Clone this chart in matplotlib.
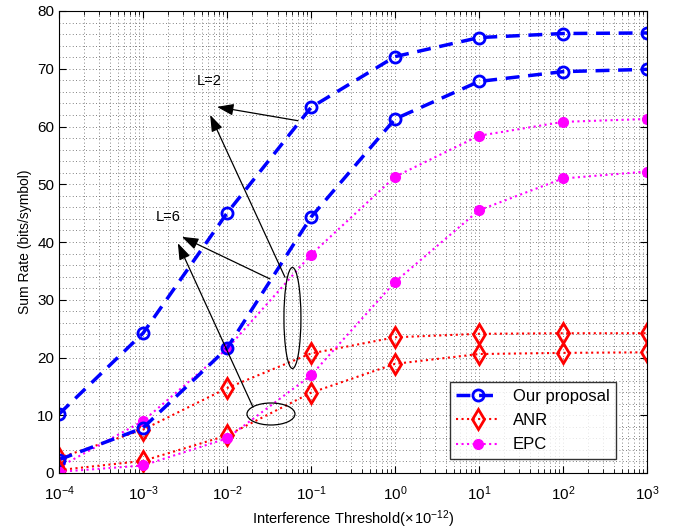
import numpy as np
import matplotlib
matplotlib.use("Agg")
import matplotlib.pyplot as plt
from matplotlib.patches import Ellipse
from matplotlib.ticker import NullFormatter, LogLocator

plt.rcParams['font.family'] = ['Liberation Sans', 'DejaVu Sans']
plt.rcParams['mathtext.fontset'] = 'custom'
plt.rcParams['mathtext.rm'] = 'Liberation Sans'
plt.rcParams['mathtext.it'] = 'Liberation Sans:italic'

# interference threshold (x 1e-12)
thr = [1e-4, 1e-3, 1e-2, 1e-1, 1e0, 1e1, 1e2, 1e3]
xtick_labels = [r'$10^{-4}$', r'$10^{-3}$', r'$10^{-2}$', r'$10^{-1}$',
                r'$10^{0}$', r'$10^{1}$', r'$10^{2}$', r'$10^{3}$']

# Our proposal
prop_L2 = [10.2, 24.2, 45.0, 63.3, 72.1, 75.4, 76.1, 76.2]
prop_L6 = [2.3, 7.8, 21.6, 44.3, 61.3, 67.8, 69.5, 69.9]
# ANR
anr_L2 = [2.6, 7.5, 14.7, 20.7, 23.5, 24.1, 24.2, 24.2]
anr_L6 = [0.5, 2.1, 6.5, 13.9, 18.9, 20.6, 20.8, 20.9]
# EPC
epc_L2 = [1.0, 9.0, 21.5, 37.8, 51.3, 58.4, 60.8, 61.3]
epc_L6 = [0.2, 1.3, 6.0, 16.9, 33.1, 45.5, 51.0, 52.2]

fig = plt.figure(figsize=(6.73, 5.29), dpi=100)
ax = fig.add_axes([59/673, (529-473)/529, 588/673, 462/529])

blue = dict(color='#0000ff', ls='--', lw=2.5, marker='o', ms=8, mfc='none', mew=2, dashes=(4, 2.5))
red = dict(color='#ff0000', ls=':', lw=1.5, marker='d', ms=10, mfc='none', mew=2)
mag = dict(color='#ff00ff', ls=':', lw=1.5, marker='o', ms=7, mfc='#ff00ff', mew=1)

ax.semilogx(thr, prop_L2, label='Our proposal', **blue)
ax.semilogx(thr, anr_L2, label='ANR', **red)
ax.semilogx(thr, epc_L2, label='EPC', **mag)
ax.semilogx(thr, prop_L6, **blue)
ax.semilogx(thr, anr_L6, **red)
ax.semilogx(thr, epc_L6, **mag)

ax.set_xlim(1e-4, 1e3)
ax.set_ylim(0, 80)
ax.set_xticks(thr)
ax.set_xticklabels(xtick_labels)
ax.xaxis.set_minor_locator(LogLocator(base=10, subs=np.arange(2, 10)))
ax.set_yticks(np.arange(0, 81, 10))
ax.set_yticks(np.arange(0, 81, 2), minor=True)
ax.xaxis.set_minor_formatter(NullFormatter())
ax.yaxis.set_minor_formatter(NullFormatter())
ax.tick_params(which='both', direction='in', top=True, right=True, labelsize=11)
ax.tick_params(which='major', length=5)
ax.tick_params(which='minor', length=0)
ax.tick_params(axis='x', which='minor', length=3)
ax.tick_params(axis='x', which='major', pad=8)
ax.grid(which='both', ls=(0, (1, 3)), color='0.35', lw=0.6)

ax.set_xlabel(r'Interference Threshold($\times\,10^{-12}$)', fontsize=10.5, labelpad=4)
ax.set_ylabel('Sum Rate (bits/symbol)', fontsize=10)

leg = ax.legend(loc='lower right', bbox_to_anchor=(0.948, 0.03), borderaxespad=0,
                fancybox=False, edgecolor='k', fontsize=12, handlelength=2.6,
                borderpad=0.4, labelspacing=0.55)
leg.get_frame().set_linewidth(1.0)

# annotations
ap = dict(arrowstyle='-|>,head_length=1.0,head_width=0.35', color='k', lw=0.9,
          shrinkA=0, shrinkB=0)
ax.text(6.1e-3, 67.9, 'L=2', fontsize=10.5, ha='center', va='center')
ax.text(2.0e-3, 44.3, 'L=6', fontsize=10.5, ha='center', va='center')
ax.annotate('', xy=(7.6e-3, 63.4), xytext=(0.070, 61.0), arrowprops=ap)
ax.annotate('', xy=(6.3e-3, 62.0), xytext=(0.049, 33.9), arrowprops=ap)
ax.annotate('', xy=(2.9e-3, 40.9), xytext=(0.0325, 33.6), arrowprops=ap)
ax.annotate('', xy=(2.6e-3, 39.8), xytext=(0.0204, 11.4), arrowprops=ap)

ax.add_patch(Ellipse((0.397, 0.3355), 0.0289, 0.2186, transform=ax.transAxes,
                     fill=False, ec='k', lw=0.9, zorder=5))
ax.add_patch(Ellipse((0.3605, 0.1277), 0.0816, 0.0476, transform=ax.transAxes,
                     fill=False, ec='k', lw=0.9, zorder=5))

fig.savefig('out.png', dpi=100)
